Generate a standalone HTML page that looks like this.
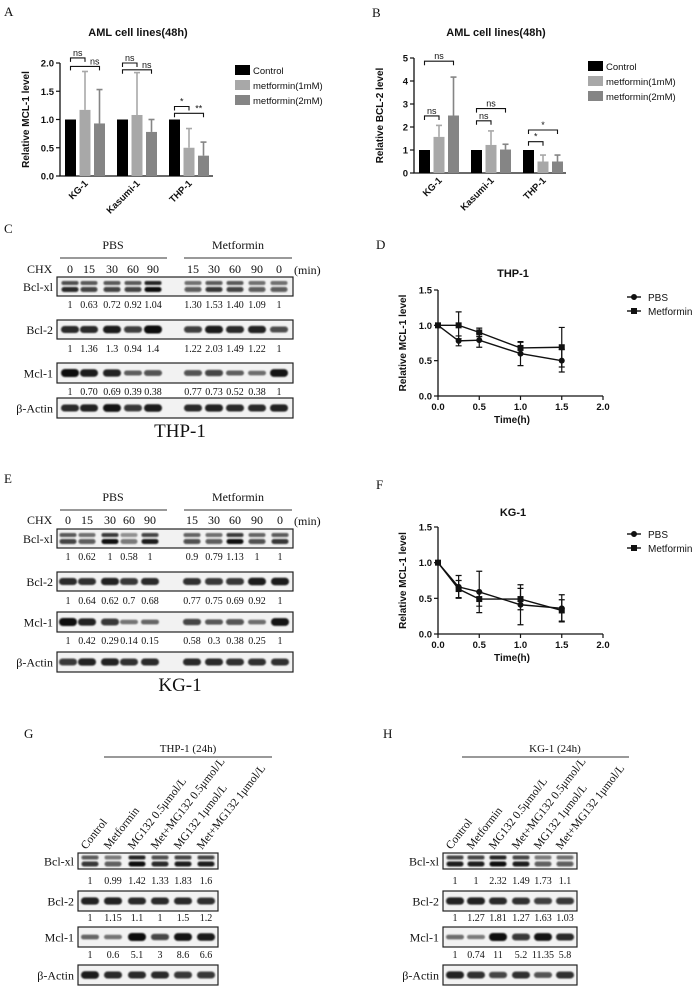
<!DOCTYPE html>
<html><head><meta charset="utf-8"><style>
html,body{margin:0;padding:0;background:#fff}
svg{display:block}
.s{font-family:"Liberation Sans",Arial,sans-serif}
.r{font-family:"Liberation Serif","Times New Roman",serif}
</style></head><body>
<svg id="fig" width="692" height="990" viewBox="0 0 692 990" xmlns="http://www.w3.org/2000/svg">
<defs><filter id="blur" x="-20%" y="-50%" width="140%" height="200%"><feGaussianBlur stdDeviation="0.9"/></filter></defs>
</svg>
<script>
// ---------- Panel A/B data ----------
const barCats = ['KG-1','Kasumi-1','THP-1'];
const aControl = [1,1,1];
const aMet1 = [1.17,1.08,0.5];
const aMet2 = [0.93,0.78,0.36];
const aMet1Err = [1.85,1.83,0.84];
const aMet2Err = [1.53,1.0,0.6];
const aTicks = ['0.0','0.5','1.0','1.5','2.0'];
const bControl = [1,1,1];
const bMet1 = [1.57,1.22,0.5];
const bMet2 = [2.5,1.02,0.5];
const bMet1Err = [2.07,1.83,0.78];
const bMet2Err = [4.17,1.25,0.78];
const bTicks = ['0','1','2','3','4','5'];
const legendLabels = ['Control','metformin(1mM)','metformin(2mM)'];
// ---------- Panel D/F data ----------
const timeTicks = ['0.0','0.5','1.0','1.5','2.0'];
const lineTicks = ['0.0','0.5','1.0','1.5'];
const times = [0,0.25,0.5,1.0,1.5];
const dPBS = [1,0.78,0.79,0.6,0.5];
const dPBSErr = [0,0.07,0.1,0.17,0.16];
const dMet = [1,1.0,0.9,0.68,0.69];
const dMetErr = [0,0.19,0.06,0.08,0.28];
const fPBS = [1,0.66,0.59,0.41,0.36];
const fPBSErr = [0,0.16,0.29,0.28,0.19];
const fMet = [1,0.63,0.49,0.49,0.33];
const fMetErr = [0,0.12,0.1,0.15,0.15];
// ---------- Blot data ----------
const chxLanes = ['0','15','30','60','90','15','30','60','90','0'];
const cXl = ['1','0.63','0.72','0.92','1.04','1.30','1.53','1.40','1.09','1'];
const cB2 = ['1','1.36','1.3','0.94','1.4','1.22','2.03','1.49','1.22','1'];
const cMcl = ['1','0.70','0.69','0.39','0.38','0.77','0.73','0.52','0.38','1'];
const eXl = ['1','0.62','1','0.58','1','0.9','0.79','1.13','1','1'];
const eB2 = ['1','0.64','0.62','0.7','0.68','0.77','0.75','0.69','0.92','1'];
const eMcl = ['1','0.42','0.29','0.14','0.15','0.58','0.3','0.38','0.25','1'];
const mgLanes = ['Control','Metformin','MG132 0.5μmol/L','Met+MG132 0.5μmol/L','MG132 1μmol/L','Met+MG132 1μmol/L'];
const gXl = ['1','0.99','1.42','1.33','1.83','1.6'];
const gB2 = ['1','1.15','1.1','1','1.5','1.2'];
const gMcl = ['1','0.6','5.1','3','8.6','6.6'];
const hXl = ['1','1','2.32','1.49','1.73','1.1'];
const hB2 = ['1','1.27','1.81','1.27','1.63','1.03'];
const hMcl = ['1','0.74','11','5.2','11.35','5.8'];

const svg = document.getElementById('fig');
const NS = 'http://www.w3.org/2000/svg';
function mk(tag, attrs, parent){const e=document.createElementNS(NS,tag);for(const k in attrs)e.setAttribute(k,attrs[k]);(parent||svg).appendChild(e);return e;}
function txt(x,y,s,size,cls,anchor,weight,parent){const t=mk('text',{x:x,y:y,'font-size':size,class:cls,'text-anchor':anchor||'start','font-weight':weight||'normal',fill:'#111'},parent);t.textContent=s;return t;}

// panel letters
[['A',4,16],['B',372,17],['C',4,233],['D',376,249],['E',4,483],['F',376,489],['G',24,738],['H',383,738]].forEach(p=>{
  const t=txt(p[1],p[2],p[0],13,'r');
  
  
});

// ---------- bar charts ----------
function barChart(o){
  const g=mk('g',{});
  
  
  const y=v=>o.y0-v/o.ymax*(o.y0-o.ytop);
  const t=txt(o.tx,36,'AML cell lines(48h)',11,'s','middle','bold',g);
  
  
  const ax=mk('path',{d:`M${o.ax},${o.ytop}V${o.y0}H${o.axEnd}`,stroke:'#111','stroke-width':1.3,fill:'none'},g);
  
  
  o.ticks.forEach((s,i)=>{
    const v=i*o.ymax/(o.ticks.length-1);
    mk('line',{x1:o.ax-4,x2:o.ax,y1:y(v),y2:y(v),stroke:'#111','stroke-width':1.2},g);
    const tl=txt(o.ax-6,y(v)+3.5,s,9.5,'s','end','bold',g);
    
    
  });
  const yl=txt(0,0,o.ylabel,10,'s','middle','bold',g);
  yl.setAttribute('transform',`translate(${o.ax-31},${(o.y0+o.ytop)/2}) rotate(-90)`);
  
  
  const cols=['#000','#a8a8a8','#858585'];
  const series=[o.c,o.m1,o.m2], errs=[null,o.e1,o.e2];
  const bx=(gi,si)=>o.gx0+gi*o.gstep+si*14.5;
  barCats.forEach((c,gi)=>{
    series.forEach((s,si)=>{
      const x=bx(gi,si);
      if(errs[si]){
        mk('line',{x1:x+5.5,x2:x+5.5,y1:y(s[gi]),y2:y(errs[si][gi]),stroke:cols[si],'stroke-width':1.6},g);
        mk('line',{x1:x+2.5,x2:x+8.5,y1:y(errs[si][gi]),y2:y(errs[si][gi]),stroke:cols[si],'stroke-width':1.6},g);
      }
      const b=mk('rect',{x:x,y:y(s[gi]),width:11,height:o.y0-y(s[gi]),fill:cols[si]},g);
      
      
    });
    const xl=txt(0,0,c,9.5,'s','end','bold',g);
    xl.setAttribute('transform',`translate(${bx(gi,1)+9},${o.y0+8}) rotate(-45)`);
    
    
  });
  o.sig.forEach(s=>{
    const x1=bx(s[0],0)+5.5,x2=bx(s[0],s[1])+5.5,yy=y(s[2]);
    const br=mk('path',{d:`M${x1},${yy+4}V${yy}H${x2}V${yy+4}`,stroke:'#111','stroke-width':1.1,fill:'none'},g);
    
    
    let lx=(x1+x2)/2;
    if(o.offsetLong && s[1]===2) lx=(bx(s[0],1)+bx(s[0],2))/2+8;
    const sl=txt(lx,yy-2,s[3],9,'s','middle','normal',g);
    
    
  });
  legendLabels.forEach((l,i)=>{
    const ly=o.ly+i*15;
    const sq=mk('rect',{x:o.lx,y:ly-5,width:15,height:10,fill:cols[i]},g);
    
    
    const lt=txt(o.lx+18,ly+4,l,9.5,'s','start','normal',g);
    
    
  });
}
barChart({name:'chart-a',tx:138,ax:60,axEnd:213,y0:176,ytop:63,ymax:2,ticks:aTicks,ylabel:'Relative MCL-1 level',offsetLong:true,
  c:aControl,m1:aMet1,m2:aMet2,e1:aMet1Err,e2:aMet2Err,gx0:65,gstep:52,lx:235,ly:70,
  sig:[[0,1,2.09,'ns'],[0,2,1.94,'ns'],[1,1,2.0,'ns'],[1,2,1.88,'ns'],[2,1,1.23,'*'],[2,2,1.11,'**']]});
barChart({name:'chart-b',tx:496,ax:414,axEnd:566,y0:173,ytop:58,ymax:5,ticks:bTicks,ylabel:'Relative BCL-2 level',
  c:bControl,m1:bMet1,m2:bMet2,e1:bMet1Err,e2:bMet2Err,gx0:419,gstep:52,lx:588,ly:66,
  sig:[[0,2,4.86,'ns'],[0,1,2.48,'ns'],[1,2,2.8,'ns'],[1,1,2.27,'ns'],[2,2,1.87,'*'],[2,1,1.36,'*']]});

// ---------- line charts ----------
function lineChart(o){
  const g=mk('g',{});
  
  
  const x=t=>438+t/2*(603-438), y=v=>o.y0-v/1.5*(o.y0-o.ytop);
  const t=txt(513,o.ty,o.title,11,'s','middle','bold',g);
  
  
  const ax=mk('path',{d:`M438,${o.ytop}V${o.y0}H603`,stroke:'#111','stroke-width':1.3,fill:'none'},g);
  
  
  lineTicks.forEach((s,i)=>{
    const v=i*0.5;
    mk('line',{x1:434,x2:438,y1:y(v),y2:y(v),stroke:'#111','stroke-width':1.2},g);
    const tl=txt(432,y(v)+3.5,s,9.5,'s','end','bold',g);
    
    
  });
  timeTicks.forEach((s,i)=>{
    const v=i*0.5;
    mk('line',{x1:x(v),x2:x(v),y1:o.y0,y2:o.y0+4,stroke:'#111','stroke-width':1.2},g);
    const tl=txt(x(v),o.y0+14,s,9.5,'s','middle','bold',g);
    
    
  });
  const xt=txt(512,o.y0+27,'Time(h)',10,'s','middle','bold',g);
  
  
  const yl=txt(0,0,'Relative MCL-1 level',10,'s','middle','bold',g);
  yl.setAttribute('transform',`translate(406,${(o.y0+o.ytop)/2}) rotate(-90)`);
  
  
  [[o.pbs,o.pbsE,'circle','pbs'],[o.met,o.metE,'square','metformin']].forEach(sr=>{
    const vals=sr[0],er=sr[1];
    const ln=mk('polyline',{points:times.map((t,i)=>x(t)+','+y(vals[i])).join(' '),fill:'none',stroke:'#111','stroke-width':1.4},g);
    
    
    times.forEach((t,i)=>{
      if(er[i]>0){
        mk('path',{d:`M${x(t)},${y(vals[i]-er[i])}V${y(vals[i]+er[i])}M${x(t)-3},${y(vals[i]-er[i])}h6M${x(t)-3},${y(vals[i]+er[i])}h6`,stroke:'#111','stroke-width':1.2,fill:'none'},g);
      }
      let m;
      if(sr[2]==='circle') m=mk('circle',{cx:x(t),cy:y(vals[i]),r:3,fill:'#111'},g);
      else m=mk('rect',{x:x(t)-3,y:y(vals[i])-3,width:6,height:6,fill:'#111'},g);
      
      
    });
  });
  [['PBS','circle'],['Metformin','square']].forEach((l,i)=>{
    const ly=o.ly+i*14;
    mk('line',{x1:627,x2:641,y1:ly,y2:ly,stroke:'#111','stroke-width':1.4},g);
    if(l[1]==='circle') mk('circle',{cx:634,cy:ly,r:3,fill:'#111'},g); else mk('rect',{x:631,y:ly-3,width:6,height:6,fill:'#111'},g);
    const lt=txt(648,ly+4,l[0],10,'s','start','normal',g);
    
    
  });
}
lineChart({name:'chart-d',title:'THP-1',ty:277,y0:396,ytop:290,pbs:dPBS,pbsE:dPBSErr,met:dMet,metE:dMetErr,ly:297});
lineChart({name:'chart-f',title:'KG-1',ty:516,y0:634,ytop:527,pbs:fPBS,pbsE:fPBSErr,met:fMet,metE:fMetErr,ly:534});

// ---------- western blots ----------
function blotRow(g,lx,x0,x1,yt,yb,name,lanes,ints,double){
  const lab=txt(lx,(yt+yb)/2+4.5,name,12,'r','end','normal',g);
  
  
  const bg=mk('rect',{x:x0,y:yt,width:x1-x0,height:yb-yt,fill:'#f2f2f2',stroke:'#222','stroke-width':1.2},g);
  
  
  const cy=(yt+yb)/2;
  lanes.forEach((lx2,i)=>{
    const a=ints[i];
    if(double){
      mk('rect',{x:lx2-8.5,y:cy-5.5,width:17,height:4,rx:2,fill:'#0a0a0a','fill-opacity':a*0.9,filter:'url(#blur)'},g);
      mk('rect',{x:lx2-8.5,y:cy+0.5,width:17,height:5,rx:2.5,fill:'#0a0a0a','fill-opacity':Math.min(1,a*1.1),filter:'url(#blur)'},g);
    } else {
      const h=3.5+4.5*a;
      mk('rect',{x:lx2-9,y:cy-h/2,width:18,height:h,rx:h/2,fill:'#0a0a0a','fill-opacity':0.4+0.6*a,filter:'url(#blur)'},g);
    }
  });
}
function numRow(g,lanes,vals,y){
  vals.forEach((v,i)=>{
    const t=txt(lanes[i],y,v,10,'r','middle','normal',g);
    
    
  });
}
function chxPanel(o){
  const g=mk('g',{});
  
  
  const L=o.lanes;
  const p=txt(113,o.hy,'PBS',12,'r','middle','normal',g);
  
  
  mk('line',{x1:60,x2:167,y1:o.hy+9,y2:o.hy+9,stroke:'#333','stroke-width':0.9},g);
  const m=txt(238,o.hy,'Metformin',12,'r','middle','normal',g);
  
  
  mk('line',{x1:184,x2:292,y1:o.hy+9,y2:o.hy+9,stroke:'#333','stroke-width':0.9},g);
  const c=txt(27,o.cy,'CHX',12,'r','start','normal',g);
  
  
  chxLanes.forEach((s,i)=>{const t=txt(L[i],o.cy,s,12,'r','middle','normal',g);
    
    });
  const mn=txt(294,o.cy+1,'(min)',12,'r','start','normal',g);
  
  
  const r=o.rows;
  blotRow(g,53,57,293,r[0],r[0]+19,'Bcl-xl',L,o.i[0],true);
  numRow(g,L,o.n[0],r[0]+31);
  blotRow(g,53,57,293,r[1],r[1]+19,'Bcl-2',L,o.i[1],false);
  numRow(g,L,o.n[1],r[1]+32);
  blotRow(g,53,57,293,r[2],r[2]+20,'Mcl-1',L,o.i[2],false);
  numRow(g,L,o.n[2],r[2]+32);
  blotRow(g,53,57,293,r[3],r[3]+20,'β-Actin',L,o.i[3],false);
  const ct=txt(180,o.ly,o.cell,19,'r','middle','normal',g);
  
  
}
chxPanel({name:'blot-c',hy:249,cy:273,lanes:[70,89,112,133,153,193,214,235,257,279],rows:[277,320,363,398],
  n:[cXl,cB2,cMcl],cell:'THP-1',ly:437,
  i:[[0.8,0.7,0.7,0.7,1,0.6,0.75,0.7,0.6,0.6],[0.8,0.8,0.9,0.65,1,0.65,0.9,0.8,0.85,0.55],[1,0.9,0.85,0.35,0.5,0.5,0.6,0.35,0.25,0.95],[0.8,0.85,0.95,0.7,0.9,0.8,0.85,0.8,0.8,0.85]]});
chxPanel({name:'blot-e',hy:501,cy:524,lanes:[68,87,110,129,150,192,214,235,257,280],rows:[529,572,612,652],
  n:[eXl,eB2,eMcl],cell:'KG-1',ly:691,
  i:[[0.7,0.6,0.9,0.45,0.85,0.65,0.6,0.9,0.65,0.75],[0.8,0.75,0.85,0.7,0.8,0.75,0.7,0.7,0.9,0.9],[1,0.85,0.7,0.2,0.3,0.6,0.4,0.5,0.25,0.95],[0.7,0.85,0.85,0.75,0.8,0.8,0.8,0.75,0.75,0.75]]});

function mgPanel(o){
  const g=mk('g',{});
  
  
  const L=o.lanes;
  const h=txt(o.hx,752,o.title,11,'r','middle','normal',g);
  
  
  mk('line',{x1:o.l0,x2:o.l1,y1:757,y2:757,stroke:'#333','stroke-width':1},g);
  mgLanes.forEach((s,i)=>{
    const t=txt(0,0,s,11.5,'r','start','normal',g);
    t.setAttribute('transform',`translate(${L[i]-4},${850}) rotate(-52)`);
    
    
  });
  blotRow(g,o.x0-4,o.x0,o.x1,853,869,'Bcl-xl',L,o.i[0],true);
  numRow(g,L,o.n[0],884);
  blotRow(g,o.x0-4,o.x0,o.x1,891,911,'Bcl-2',L,o.i[1],false);
  numRow(g,L,o.n[1],921);
  blotRow(g,o.x0-4,o.x0,o.x1,927,947,'Mcl-1',L,o.i[2],false);
  numRow(g,L,o.n[2],958);
  blotRow(g,o.x0-4,o.x0,o.x1,965,985,'β-Actin',L,o.i[3],false);
}
mgPanel({name:'blot-g',title:'THP-1 (24h)',hx:188,l0:104,l1:272,x0:78,x1:218,lanes:[90,113,137,160,183,206],n:[gXl,gB2,gMcl],
  i:[[0.75,0.55,1,0.8,0.85,0.85],[0.85,0.85,0.8,0.8,0.8,0.75],[0.3,0.2,1,0.6,0.95,0.9],[0.9,0.8,0.8,0.8,0.7,0.7]]});
mgPanel({name:'blot-h',title:'KG-1 (24h)',hx:555,l0:462,l1:629,x0:443,x1:577,lanes:[455,476,498,521,543,565],n:[hXl,hB2,hMcl],
  i:[[0.85,0.85,1,0.85,0.55,0.6],[0.85,0.85,0.8,0.75,0.65,0.7],[0.25,0.15,1,0.7,0.95,0.8],[0.85,0.75,0.6,0.75,0.5,0.75]]});
</script>
</body></html>
